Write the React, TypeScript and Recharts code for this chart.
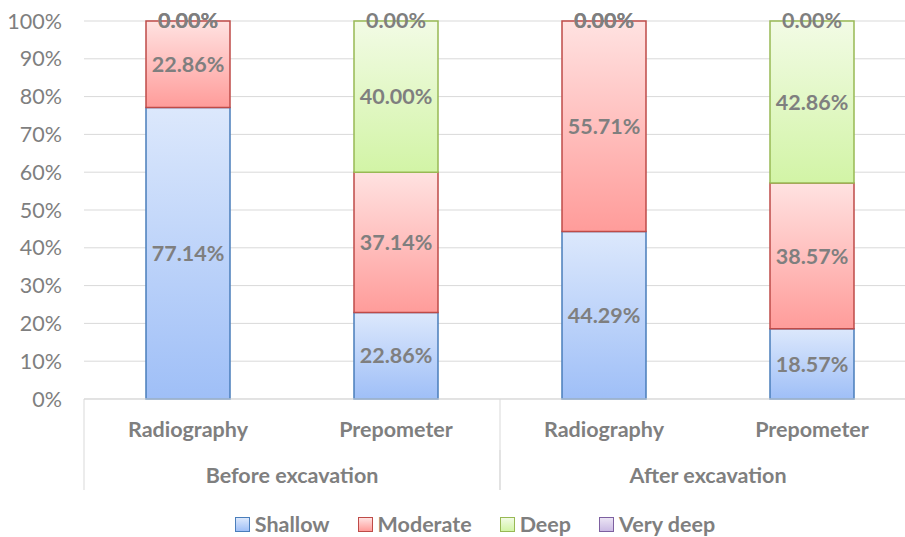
import React from 'react'
import { BarChart, Bar, XAxis, YAxis, CartesianGrid, Legend, LabelList, Cell } from 'recharts'

// categories (two-level x axis)
const groups = ['Before excavation', 'Before excavation', 'After excavation', 'After excavation']
const methods = ['Radiography', 'Prepometer', 'Radiography', 'Prepometer']

// series values, in percent
const shallow = [77.14, 22.86, 44.29, 18.57]
const moderate = [22.86, 37.14, 55.71, 38.57]
const deep = [0, 40.0, 0, 42.86]
const veryDeep = [0, 0, 0, 0]

const yTicks = [0, 10, 20, 30, 40, 50, 60, 70, 80, 90, 100]

const series = [
  { key: 'shallow', name: 'Shallow', values: shallow, stroke: '#4a7ebb', top: '#dce8fc', bottom: '#9fbff7' },
  { key: 'moderate', name: 'Moderate', values: moderate, stroke: '#be4b48', top: '#ffe2e1', bottom: '#ff9c9a' },
  { key: 'deep', name: 'Deep', values: deep, stroke: '#98b954', top: '#f2fbe5', bottom: '#d2f4a6' },
  { key: 'veryDeep', name: 'Very deep', values: veryDeep, stroke: '#7d60a0', top: '#ebe4f4', bottom: '#cbbbe4' },
]

const data = methods.map((m, i) => ({
  method: m,
  group: groups[i],
  shallow: shallow[i],
  moderate: moderate[i],
  deep: deep[i],
  veryDeep: veryDeep[i],
}))

const FONT = 'Lato, "Open Sans", sans-serif'
const GREY = '#7f7f7f'
const LINE = '#d9d9d9'

const MethodTick = (props: any) => {
  const { x, y, payload, index, width } = props
  const band = width / methods.length
  return (
    <g>
      {index % 2 === 0 && <line x1={x - band / 2} x2={x - band / 2} y1={y} y2={y + 51} stroke={LINE} />}
      <text x={x} y={y + 38} textAnchor="middle" fill={GREY} fontSize={21.5} fontWeight="bold" fontFamily={FONT}>
        {payload.value}
      </text>
    </g>
  )
}

const GroupTick = (props: any) => {
  const { x, y, payload, width } = props
  const band = width / 2
  return (
    <g>
      <line x1={x - band / 2} x2={x - band / 2} y1={y} y2={y + 40} stroke={LINE} />
      <line x1={x + band / 2} x2={x + band / 2} y1={y} y2={y + 40} stroke={LINE} />
      <text x={x} y={y + 33} textAnchor="middle" fill={GREY} fontSize={21.5} fontWeight="bold" fontFamily={FONT}>
        {payload.value}
      </text>
    </g>
  )
}

const LegendContent = () => (
  <div style={{ display: 'flex', justifyContent: 'center', gap: 28, fontFamily: FONT, fontSize: 21.5, fontWeight: 'bold', color: GREY, lineHeight: '24px' }}>
    {series.map(s => (
      <div key={s.key} style={{ display: 'flex', alignItems: 'center', gap: 5 }}>
        <span
          style={{
            width: 13,
            height: 13,
            border: `1.5px solid ${s.stroke}`,
            background: `linear-gradient(${s.top}, ${s.bottom})`,
            display: 'inline-block',
          }}
        />
        <span>{s.name}</span>
      </div>
    ))}
  </div>
)

export default function App() {
  return (
    <div style={{ position: 'absolute', left: 0, top: 0, width: 905, height: 537, overflow: 'hidden', background: '#fff' }}>
      <BarChart width={920} height={537} data={data} margin={{ top: 21, right: 4, left: 0, bottom: 0 }}>
        <defs>
          {series.map(s => (
            <linearGradient key={s.key} id={`grad-${s.key}`} x1="0" y1="0" x2="0" y2="1">
              <stop offset="0%" stopColor={s.top} />
              <stop offset="100%" stopColor={s.bottom} />
            </linearGradient>
          ))}
        </defs>
        <CartesianGrid vertical={false} stroke={LINE} />
        <XAxis
          dataKey="method"
          xAxisId={0}
          height={51}
          tickSize={0}
          tickMargin={0}
          axisLine={{ stroke: LINE }}
          tickLine={false}
          interval={0}
          tick={<MethodTick />}
        />
        <XAxis
          dataKey="group"
          xAxisId="group"
          allowDuplicatedCategory={false}
          height={45}
          tickSize={0}
          tickMargin={0}
          axisLine={false}
          tickLine={false}
          interval={0}
          tick={<GroupTick />}
        />
        <YAxis
          width={84}
          domain={[0, 100]}
          ticks={yTicks}
          tickFormatter={v => `${v}%`}
          axisLine={false}
          tickLine={false}
          tickSize={0}
          tickMargin={22}
          tick={{ fill: GREY, fontSize: 21.5, fontFamily: FONT }}
        />
        <Legend
          verticalAlign="bottom"
          content={<LegendContent />}
          wrapperStyle={{ left: 0, width: 950, height: 42, paddingTop: 17, boxSizing: 'border-box' }}
        />
        {series.map(s => (
          <Bar
            key={s.key}
            dataKey={s.key}
            name={s.name}
            stackId="a"
            barSize={84}
            minPointSize={1}
            fill={`url(#grad-${s.key})`}
            stroke={s.stroke}
            strokeWidth={1.5}
            isAnimationActive={false}
          >
            {s.values.map((v, i) => (
              <Cell
                key={i}
                fill={v === 0 ? 'none' : `url(#grad-${s.key})`}
                stroke={v === 0 ? 'none' : s.stroke}
              />
            ))}
            <LabelList
              dataKey={s.key}
              position="center"
              formatter={(v: any) => `${Number(v).toFixed(2)}%`}
              fill={GREY}
              fontSize={21.5}
              fontWeight="bold"
              fontFamily={FONT}
            />
          </Bar>
        ))}
      </BarChart>
    </div>
  )
}
